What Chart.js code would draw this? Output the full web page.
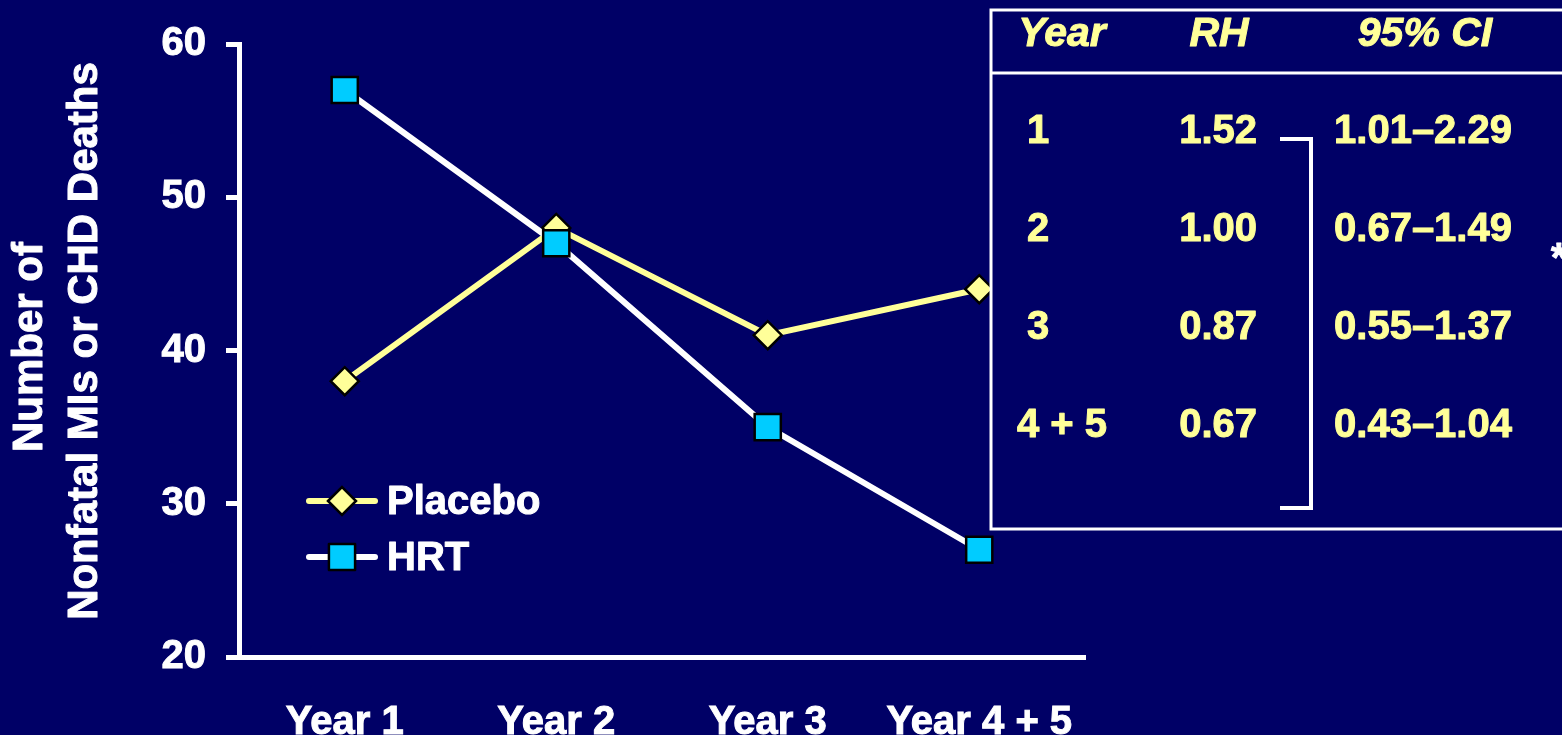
<!DOCTYPE html>
<html>
<head>
<meta charset="utf-8">
<script src="https://cdn.jsdelivr.net/npm/chart.js@4/dist/chart.umd.min.js"></script>
<style>
  html, body { margin: 0; padding: 0; background: #000066; }
  #wrap { width: 1562px; height: 735px; }
</style>
</head>
<body>
<div id="wrap"><canvas id="eventsChart" width="1562" height="735"></canvas></div>
<script>
// ---- data ----
const years = ['Year 1', 'Year 2', 'Year 3', 'Year 4 + 5'];
const placebo = [38, 48, 41, 44];
const hrt = [57, 47, 35, 27];
const yTicks = [20, 30, 40, 50, 60];

// relative hazard table
const tableHeaders = ['Year', 'RH', '95% CI'];
const tableYears = ['1', '2', '3', '4 + 5'];
const rhValues = ['1.52', '1.00', '0.87', '0.67'];
const ciRanges = ['1.01–2.29', '0.67–1.49', '0.55–1.37', '0.43–1.04'];

const NAVY = '#000066';
const YELLOW = '#FFFF99';
const CYAN = '#00CCFF';
const FONT = '"Liberation Sans", Arial, sans-serif';

// fill + thin outline so the bold text reads heavier
function boldText(ctx, text, x, y, color) {
  ctx.fillStyle = color;
  ctx.strokeStyle = color;
  ctx.lineWidth = 1;
  ctx.lineJoin = 'round';
  ctx.fillText(text, x, y);
  ctx.strokeText(text, x, y);
}

// y axis title, two lines rotated
const axisTitle = {
  id: 'axisTitle',
  afterDraw(chart) {
    const ctx = chart.ctx;
    ctx.save();
    ctx.font = `bold 42px ${FONT}`;
    ctx.textAlign = 'center';
    ctx.textBaseline = 'middle';
    [['Number of', 30, 347], ['Nonfatal MIs or CHD Deaths', 85, 341]].forEach(([t, x, y]) => {
      ctx.save();
      ctx.translate(x, y);
      ctx.rotate(-Math.PI / 2);
      boldText(ctx, t, 0, 0, '#fff');
      ctx.restore();
    });
    ctx.restore();
  }
};

// legend: line with marker, like the series
const seriesLegend = {
  id: 'seriesLegend',
  afterDraw(chart) {
    const ctx = chart.ctx;
    const items = [
      { label: 'Placebo', y: 501, ds: chart.data.datasets[1] },
      { label: 'HRT', y: 557, ds: chart.data.datasets[0] },
    ];
    ctx.save();
    items.forEach(it => {
      ctx.strokeStyle = it.ds.borderColor;
      ctx.lineWidth = 6;
      ctx.lineCap = 'round';
      ctx.beginPath();
      ctx.moveTo(309, it.y);
      ctx.lineTo(375, it.y);
      ctx.stroke();
      ctx.fillStyle = it.ds.pointBackgroundColor;
      ctx.strokeStyle = it.ds.pointBorderColor;
      ctx.lineWidth = it.ds.pointBorderWidth;
      Chart.helpers.drawPoint(ctx, { pointStyle: it.ds.pointStyle, radius: it.ds.pointRadius, rotation: 0, borderWidth: it.ds.pointBorderWidth }, 342, it.y);
      ctx.font = `bold 40px ${FONT}`;
      ctx.textAlign = 'left';
      ctx.textBaseline = 'middle';
      boldText(ctx, it.label, 387, it.y + 2, '#fff');
    });
    ctx.restore();
  }
};

// RH table box on the right
const rhTable = {
  id: 'rhTable',
  afterDraw(chart) {
    const ctx = chart.ctx;
    ctx.save();
    ctx.fillStyle = NAVY;
    ctx.fillRect(991, 10, 600, 519);
    ctx.strokeStyle = '#fff';
    ctx.lineWidth = 3;
    ctx.strokeRect(991, 10, 600, 519);
    ctx.beginPath();
    ctx.moveTo(991, 73);
    ctx.lineTo(1562, 73);
    ctx.stroke();

    ctx.textBaseline = 'middle';
    ctx.textAlign = 'center';
    ctx.font = `italic bold 41px ${FONT}`;
    const headX = [1062, 1219, 1425];
    tableHeaders.forEach((h, i) => boldText(ctx, h, headX[i], 35, YELLOW));

    ctx.font = `bold 40px ${FONT}`;
    const rowY = [132, 230, 328, 426];
    tableYears.forEach((y, i) => {
      ctx.textAlign = 'center';
      boldText(ctx, y, i === 3 ? 1062 : 1038, rowY[i], YELLOW);
      ctx.textAlign = 'right';
      boldText(ctx, rhValues[i], 1257, rowY[i], YELLOW);
      ctx.textAlign = 'center';
      boldText(ctx, ciRanges[i], 1423, rowY[i], YELLOW);
    });

    // bracket grouping the rows
    ctx.strokeStyle = '#fff';
    ctx.lineWidth = 4;
    ctx.lineJoin = 'miter';
    ctx.beginPath();
    ctx.moveTo(1280, 139);
    ctx.lineTo(1311, 139);
    ctx.lineTo(1311, 508);
    ctx.lineTo(1280, 508);
    ctx.stroke();

    ctx.textAlign = 'left';
    ctx.font = `bold 40px ${FONT}`;
    boldText(ctx, '*', 1551, 260, '#fff');
    ctx.restore();
  }
};

const bg = {
  id: 'bg',
  beforeDraw(chart) {
    const ctx = chart.ctx;
    ctx.save();
    ctx.fillStyle = NAVY;
    ctx.fillRect(0, 0, chart.width, chart.height);
    ctx.restore();
  }
};

const tickFont = { family: FONT, size: 40, weight: 'bold' };

new Chart(document.getElementById('eventsChart'), {
  type: 'line',
  data: {
    labels: years,
    datasets: [
      {
        label: 'HRT',
        data: hrt,
        order: 0,
        borderColor: '#fff',
        borderWidth: 6,
        pointStyle: 'rect',
        pointRadius: 18.5,
        pointBackgroundColor: CYAN,
        pointBorderColor: '#000',
        pointBorderWidth: 2.5,
        tension: 0,
      },
      {
        label: 'Placebo',
        data: placebo,
        order: 1,
        borderColor: YELLOW,
        borderWidth: 6,
        pointStyle: 'rectRot',
        pointRadius: 14,
        pointBackgroundColor: YELLOW,
        pointBorderColor: '#000',
        pointBorderWidth: 2.5,
        tension: 0,
      },
    ],
  },
  options: {
    responsive: false,
    animation: false,
    layout: { padding: { top: 44, right: 477, left: 0, bottom: 0 } },
    plugins: { legend: { display: false }, tooltip: { enabled: false } },
    scales: {
      x: {
        offset: true,
        grid: { display: false, drawTicks: false },
        border: { display: true, color: '#fff', width: 5 },
        ticks: { color: '#fff', padding: 42, font: tickFont, textStrokeColor: '#fff', textStrokeWidth: 1 },
        afterFit(scale) { scale.height = 78; },
      },
      y: {
        min: 20,
        max: 60,
        afterBuildTicks(scale) { scale.ticks = yTicks.map(v => ({ value: v })); },
        grid: { drawOnChartArea: false, drawTicks: true, tickLength: 13, color: '#fff', lineWidth: 5 },
        border: { display: true, color: '#fff', width: 5 },
        ticks: { color: '#fff', padding: 20, font: tickFont, textStrokeColor: '#fff', textStrokeWidth: 1 },
        afterFit(scale) { scale.width = 239; },
      },
    },
  },
  plugins: [bg, axisTitle, rhTable, seriesLegend],
});
</script>
</body>
</html>
